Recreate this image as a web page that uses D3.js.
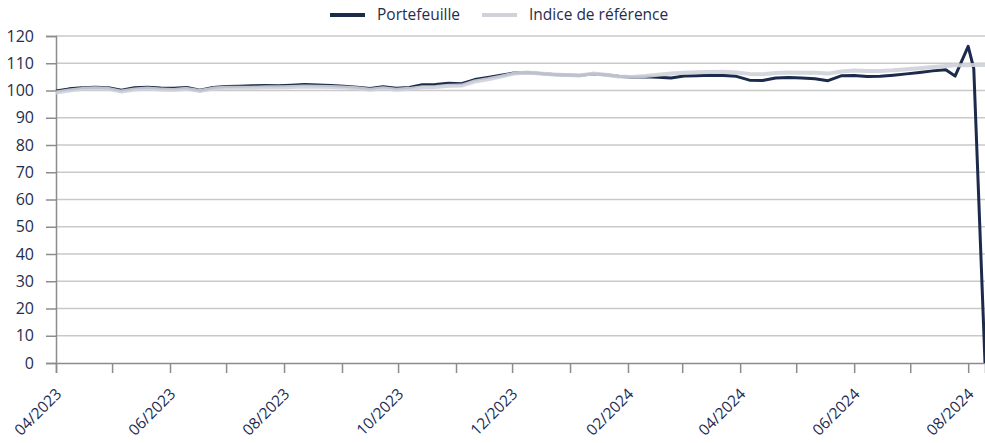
<!DOCTYPE html>
<html>
<head>
<meta charset="utf-8">
<script src="https://cdn.jsdelivr.net/npm/d3@7"></script>
<style>
  body { margin: 0; background: #fff; }
  svg { display: block; }
</style>
</head>
<body>
<svg id="chart"></svg>
<script>
// weekly points, then the last few days of the period
const dates = [
  '2023-04-01','2023-04-08','2023-04-15','2023-04-22','2023-04-29','2023-05-06','2023-05-13','2023-05-20','2023-05-27',
  '2023-06-03','2023-06-10','2023-06-17','2023-06-24','2023-07-01','2023-07-08','2023-07-15','2023-07-22','2023-07-29',
  '2023-08-05','2023-08-12','2023-08-19','2023-08-26','2023-09-02','2023-09-09','2023-09-16','2023-09-23','2023-09-30',
  '2023-10-07','2023-10-14','2023-10-21','2023-10-28','2023-11-04','2023-11-11','2023-11-18','2023-11-25','2023-12-02',
  '2023-12-09','2023-12-16','2023-12-23','2023-12-30','2024-01-06','2024-01-13','2024-01-20','2024-01-27','2024-02-03',
  '2024-02-10','2024-02-17','2024-02-24','2024-03-02','2024-03-09','2024-03-16','2024-03-23','2024-03-30','2024-04-06',
  '2024-04-13','2024-04-20','2024-04-27','2024-05-04','2024-05-11','2024-05-18','2024-05-25','2024-06-01','2024-06-08',
  '2024-06-15','2024-06-22','2024-06-29','2024-07-06','2024-07-13','2024-07-20',
  '2024-07-25','2024-08-01','2024-08-04','2024-08-10'
];

const portefeuille = [
  99.8, 100.6, 101.0, 101.2, 101.0, 100.1, 101.0, 101.2, 100.9,
  100.8, 101.1, 100.1, 101.1, 101.5, 101.6, 101.7, 101.8, 101.7,
  101.9, 102.2, 102.0, 101.8, 101.6, 101.2, 100.7, 101.4, 100.8,
  101.1, 102.1, 102.2, 102.7, 102.5, 104.0, 104.8, 105.6, 106.4,
  106.6, 106.2, 105.9, 105.7, 105.5, 106.1, 105.8, 105.2, 104.9,
  105.0, 104.9, 104.6, 105.3, 105.4, 105.6, 105.5, 105.2, 103.8,
  103.7, 104.6, 104.8, 104.6, 104.3, 103.6, 105.4, 105.5, 105.1,
  105.2, 105.6, 106.1, 106.6, 107.2, 107.6,
  105.3, 116.2, 108.0, 0
];

const indice = [
  99.3, 100.0, 100.6, 100.8, 100.6, 99.6, 100.4, 100.7, 100.4,
  100.2, 100.6, 99.8, 100.7, 101.0, 101.0, 101.0, 101.2, 101.2,
  101.3, 101.5, 101.4, 101.3, 101.1, 100.8, 100.3, 100.8, 100.3,
  100.6, 101.2, 101.3, 101.7, 101.8, 103.3, 104.1, 105.1, 106.2,
  106.6, 106.2, 105.9, 105.7, 105.5, 106.2, 105.8, 105.1, 105.0,
  105.3, 105.8, 106.2, 106.5, 106.7, 106.8, 106.9, 106.6, 106.1,
  106.0, 106.4, 106.6, 106.5, 106.5, 106.2, 107.0, 107.3, 107.2,
  107.2, 107.4, 107.8, 108.2, 108.6, 109.0,
  109.3, 109.3, 109.4, 109.4
];

const yTicks = [0, 10, 20, 30, 40, 50, 60, 70, 80, 90, 100, 110, 120];
const seriesNames = ['Portefeuille', 'Indice de référence'];

const width = 985, height = 443;
const margin = { top: 36, right: 0, bottom: 80, left: 56 };
const innerW = width - margin.left - margin.right;
const innerH = height - margin.top - margin.bottom;

const textColor = '#1f2d4e';
const colors = { 'Portefeuille': '#1c2b4b', 'Indice de référence': '#cfd2da' };
const font = '"Open Sans", sans-serif';

const parse = d3.timeParse('%Y-%m-%d');
const data = dates.map((d, i) => ({ date: parse(d), p: portefeuille[i], r: indice[i] }));

const svg = d3.select('#chart')
  .attr('width', width)
  .attr('height', height);

const chart = svg.append('g')
  .attr('transform', `translate(${margin.left},${margin.top})`);

const xScale = d3.scaleTime()
  .domain([parse('2023-04-01'), parse('2024-08-10')])
  .range([0, innerW]);

const yScale = d3.scaleLinear()
  .domain([0, 120])
  .range([innerH, 0]);

// gridlines
chart.append('g')
  .selectAll('line')
  .data(yTicks.filter(d => d > 0))
  .join('line')
    .attr('x1', 0)
    .attr('x2', innerW)
    .attr('y1', d => yScale(d))
    .attr('y2', d => yScale(d))
    .attr('stroke', '#c9c9c9')
    .attr('stroke-width', 1.5);

// y axis
const yAxis = d3.axisLeft(yScale).tickValues(yTicks).tickSize(10).tickPadding(12);
const yAxisG = chart.append('g').call(yAxis);
yAxisG.select('.domain').attr('stroke', '#8c8c8c').attr('stroke-width', 1.5);
yAxisG.selectAll('.tick line').attr('stroke', '#8c8c8c').attr('stroke-width', 1.5);
yAxisG.selectAll('.tick text')
  .attr('fill', textColor)
  .attr('font-family', font)
  .attr('font-size', 16);

// x axis, a tick every month, a label every two months
const months = d3.timeMonth.range(parse('2023-04-01'), parse('2024-08-02'));
const fmt = d3.timeFormat('%m/%Y');
const xAxis = d3.axisBottom(xScale)
  .tickValues(months)
  .tickSize(10)
  .tickFormat((d, i) => i % 2 === 0 ? fmt(d) : '');
const xAxisG = chart.append('g')
  .attr('transform', `translate(0,${innerH})`)
  .call(xAxis);
xAxisG.select('.domain').attr('stroke', '#8c8c8c').attr('stroke-width', 1.5);
xAxisG.selectAll('.tick line').attr('stroke', '#8c8c8c').attr('stroke-width', 1.5);
xAxisG.selectAll('.tick text')
  .attr('fill', textColor)
  .attr('font-family', font)
  .attr('font-size', 15.5)
  .attr('text-anchor', 'end')
  .attr('x', 0)
  .attr('y', 0)
  .attr('dy', 0)
  .attr('transform', 'translate(6,32) rotate(-45)');

// lines
const lineP = d3.line()
  .x(d => xScale(d.date))
  .y(d => yScale(d.p));
const lineR = d3.line()
  .x(d => xScale(d.date))
  .y(d => yScale(d.r));

chart.append('path')
  .datum(data)
  .attr('fill', 'none')
  .attr('stroke', colors['Portefeuille'])
  .attr('stroke-width', 3)
  .attr('stroke-linejoin', 'round')
  .attr('d', lineP);

chart.append('path')
  .datum(data)
  .attr('fill', 'none')
  .attr('stroke', colors['Indice de référence'])
  .attr('stroke-width', 4)
  .attr('stroke-linejoin', 'round')
  .attr('opacity', 0.9)
  .attr('d', lineR);

// legend
const legX = [330, 482];
const leg = svg.append('g');
leg.selectAll('line')
  .data(seriesNames)
  .join('line')
    .attr('x1', (d, i) => legX[i])
    .attr('x2', (d, i) => legX[i] + 35)
    .attr('y1', 15)
    .attr('y2', 15)
    .attr('stroke', d => colors[d])
    .attr('stroke-width', 4);
leg.selectAll('text')
  .data(seriesNames)
  .join('text')
    .attr('x', (d, i) => legX[i] + 47)
    .attr('y', 15)
    .attr('dy', '0.35em')
    .attr('fill', textColor)
    .attr('font-family', font)
    .attr('font-size', 15.5)
    .text(d => d);
</script>
</body>
</html>
